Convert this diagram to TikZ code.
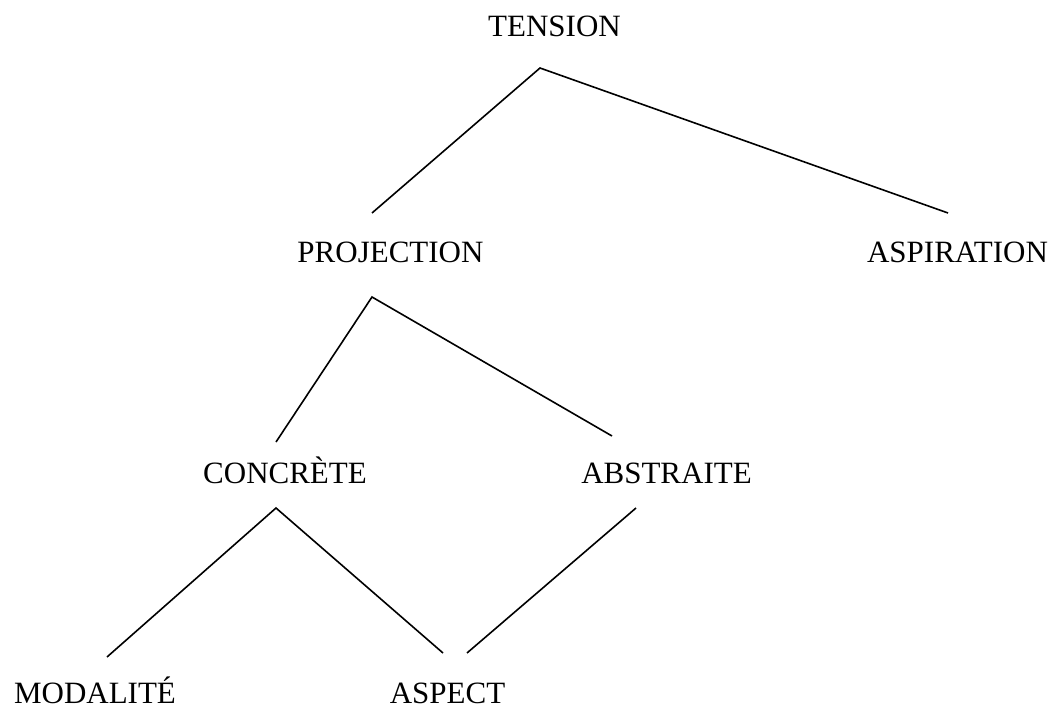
\documentclass[tikz,border=0pt]{standalone}
\usepackage{fontspec}
\setmainfont{Liberation Serif}

\tikzset{
  term/.style={inner sep=0pt, anchor=base, text depth=0pt, font=\fontsize{15.5}{18}\selectfont},
  branch/.style={line width=0.8pt, black}
}

\begin{document}
\begin{tikzpicture}[x=0.5pt, y=-0.5pt]
            % Frame of the picture
            \useasboundingbox (0,0) rectangle (1054,706);

            % Draw the terms of the tree
            \node[term] (tension)    at (554.5,37)  {TENSION};
            \node[term] (projection) at (390.5,262) {PROJECTION};
            \node[term] (aspiration) at (957.5,262) {ASPIRATION};
            \node[term] (concrete)   at (285,483)   {CONCRÈTE};
            \node[term] (abstraite)  at (666.5,483) {ABSTRAITE};
            \node[term] (modalite)   at (95,703)    {MODALITÉ};
            \node[term] (aspect)     at (447.5,703) {ASPECT};

            % Ends of the branches
            \coordinate (tension-foot)    at (540,68);
            \coordinate (projection-head) at (372,213);
            \coordinate (projection-foot) at (372,297);
            \coordinate (aspiration-head) at (948,213);
            \coordinate (concrete-head)   at (276,442);
            \coordinate (concrete-foot)   at (276,508);
            \coordinate (abstraite-head)  at (612,436);
            \coordinate (abstraite-foot)  at (636,508);
            \coordinate (modalite-head)   at (107,657);
            \coordinate (aspect-head-l)   at (443,653);
            \coordinate (aspect-head-r)   at (467,653);

            % Draw the branches
            \draw[branch] (projection-head) -- (tension-foot) -- (aspiration-head);
            \draw[branch] (concrete-head) -- (projection-foot) -- (abstraite-head);
            \draw[branch] (modalite-head) -- (concrete-foot) -- (aspect-head-l);
            \draw[branch] (abstraite-foot) -- (aspect-head-r);

        \end{tikzpicture}
\end{document}
